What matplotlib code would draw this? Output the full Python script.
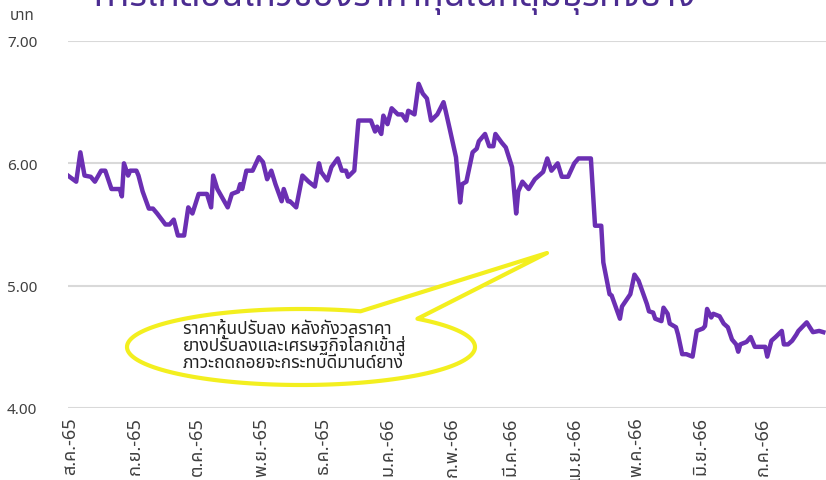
import numpy as np
import pandas as pd
import matplotlib
matplotlib.use("Agg")
import matplotlib.pyplot as plt
from matplotlib import font_manager
from matplotlib.ft2font import FT2Font
from matplotlib.path import Path
from matplotlib.patches import PathPatch

# ราคาหุ้น (บาท) อ่านค่าจากภาพ
dates = [
    "2022-07-31", "2022-08-04", "2022-08-06", "2022-08-08", "2022-08-11", "2022-08-13",
    "2022-08-16", "2022-08-18", "2022-08-21", "2022-08-25", "2022-08-26", "2022-08-27",
    "2022-08-29", "2022-08-30", "2022-09-02", "2022-09-03", "2022-09-05", "2022-09-08",
    "2022-09-10", "2022-09-12", "2022-09-16", "2022-09-18", "2022-09-20", "2022-09-22",
    "2022-09-25", "2022-09-27", "2022-09-29", "2022-10-02", "2022-10-06", "2022-10-08",
    "2022-10-09", "2022-10-11", "2022-10-16", "2022-10-18", "2022-10-21", "2022-10-22",
    "2022-10-23", "2022-10-25", "2022-10-28", "2022-10-31", "2022-11-02", "2022-11-04",
    "2022-11-06", "2022-11-08", "2022-11-11", "2022-11-12", "2022-11-14", "2022-11-15",
    "2022-11-18", "2022-11-21", "2022-11-24", "2022-11-27", "2022-11-29", "2022-11-30",
    "2022-12-03", "2022-12-05", "2022-12-08", "2022-12-10", "2022-12-12", "2022-12-13",
    "2022-12-16", "2022-12-18", "2022-12-24", "2022-12-26", "2022-12-27", "2022-12-29",
    "2022-12-30", "2023-01-01", "2023-01-03", "2023-01-06", "2023-01-08", "2023-01-10",
    "2023-01-11", "2023-01-14", "2023-01-16", "2023-01-18", "2023-01-20", "2023-01-22",
    "2023-01-25", "2023-01-28", "2023-01-29", "2023-01-31", "2023-02-03", "2023-02-05",
    "2023-02-06", "2023-02-08", "2023-02-11", "2023-02-13", "2023-02-14", "2023-02-17",
    "2023-02-19", "2023-02-21", "2023-02-22", "2023-02-25", "2023-02-27", "2023-03-02",
    "2023-03-04", "2023-03-05", "2023-03-07", "2023-03-10", "2023-03-13", "2023-03-15",
    "2023-03-17", "2023-03-19", "2023-03-21", "2023-03-24", "2023-03-26", "2023-03-29",
    "2023-04-01", "2023-04-03", "2023-04-09", "2023-04-11", "2023-04-14", "2023-04-15",
    "2023-04-18", "2023-04-19", "2023-04-23", "2023-04-24", "2023-04-28", "2023-04-30",
    "2023-05-02", "2023-05-06", "2023-05-07", "2023-05-09", "2023-05-10", "2023-05-13",
    "2023-05-14", "2023-05-16", "2023-05-17", "2023-05-20", "2023-05-21", "2023-05-23",
    "2023-05-25", "2023-05-28", "2023-05-30", "2023-06-02", "2023-06-03", "2023-06-04",
    "2023-06-06", "2023-06-07", "2023-06-10", "2023-06-12", "2023-06-14", "2023-06-16",
    "2023-06-18", "2023-06-19", "2023-06-20", "2023-06-23", "2023-06-25", "2023-06-27",
    "2023-07-02", "2023-07-03", "2023-07-05", "2023-07-07", "2023-07-10", "2023-07-11",
    "2023-07-13", "2023-07-15", "2023-07-17", "2023-07-18", "2023-07-22", "2023-07-25",
    "2023-07-28", "2023-07-30",
]
prices = [
    5.90, 5.85, 6.09, 5.90, 5.89, 5.85,
    5.94, 5.94, 5.79, 5.79, 5.73, 6.00,
    5.90, 5.94, 5.94, 5.90, 5.77, 5.63,
    5.63, 5.59, 5.50, 5.50, 5.54, 5.41,
    5.41, 5.64, 5.59, 5.75, 5.75, 5.64,
    5.90, 5.79, 5.64, 5.75, 5.77, 5.83,
    5.79, 5.94, 5.94, 6.05, 6.01, 5.87,
    5.94, 5.83, 5.69, 5.79, 5.69, 5.69,
    5.64, 5.90, 5.85, 5.81, 6.00, 5.93,
    5.86, 5.97, 6.04, 5.94, 5.94, 5.89,
    5.94, 6.35, 6.35, 6.26, 6.30, 6.24,
    6.39, 6.32, 6.45, 6.40, 6.40, 6.35,
    6.43, 6.40, 6.65, 6.57, 6.53, 6.35,
    6.40, 6.50, 6.43, 6.28, 6.05, 5.68,
    5.83, 5.85, 6.09, 6.12, 6.18, 6.24,
    6.14, 6.14, 6.24, 6.17, 6.13, 5.97,
    5.59, 5.77, 5.85, 5.79, 5.87, 5.90,
    5.93, 6.04, 5.94, 6.00, 5.89, 5.89,
    6.00, 6.04, 6.04, 5.49, 5.49, 5.19,
    4.93, 4.92, 4.73, 4.83, 4.93, 5.09,
    5.04, 4.85, 4.79, 4.78, 4.73, 4.71,
    4.82, 4.77, 4.69, 4.66, 4.60, 4.44,
    4.44, 4.42, 4.63, 4.65, 4.67, 4.81,
    4.74, 4.77, 4.75, 4.69, 4.66, 4.56,
    4.52, 4.46, 4.52, 4.54, 4.58, 4.50,
    4.50, 4.42, 4.55, 4.58, 4.63, 4.52,
    4.52, 4.55, 4.60, 4.63, 4.70, 4.62,
    4.63, 4.62,
]

month_starts = pd.date_range("2022-08-01", "2023-07-01", freq="MS")
month_labels = ["ส.ค.-65", "ก.ย.-65", "ต.ค.-65", "พ.ย.-65", "ธ.ค.-65", "ม.ค.-66",
                "ก.พ.-66", "มี.ค.-66", "เม.ย.-66", "พ.ค.-66", "มิ.ย.-66", "ก.ค.-66"]
y_ticks = [4.0, 5.0, 6.0, 7.0]

title = "การเคลื่อนไหวของราคาหุ้นในกลุ่มธุรกิจยาง"
note_lines = ["ราคาหุ้นปรับลง หลังกังวลราคา",
              "ยางปรับลงและเศรษฐกิจโลกเข้าสู่",
              "ภาวะถดถอยจะกระทบดีมานด์ยาง"]


def find_thai_font():
    prefer = ["Noto Sans Thai", "Noto Sans Thai Looped", "Loma", "Garuda",
              "Sarabun", "Kinnari", "Norasi", "Tlwg Typist"]
    found = []
    for f in font_manager.fontManager.ttflist:
        try:
            if 0x0E01 in FT2Font(f.fname).get_charmap():
                found.append(f.name)
        except Exception:
            continue
    for p in prefer:
        if p in found:
            return p
    return found[0] if found else "DejaVu Sans"


thai = find_thai_font()
plt.rcParams["font.family"] = [thai, "DejaVu Sans"]

W, H = 826, 481
fig = plt.figure(figsize=(W / 100, H / 100), dpi=100)
ax = fig.add_axes([68 / W, 1 - 409 / H, 1 - 68 / W, (409 - 42) / H])

x = pd.to_datetime(dates)
ax.plot(x, prices, color="#6B2FB3", lw=3.2, solid_joinstyle="round", zorder=3)

start = pd.Timestamp("2022-08-01")
ax.set_xlim(start - pd.Timedelta(days=0.96), start + pd.Timedelta(days=364.3))
ax.set_ylim(4.0, 7.0)

ax.set_yticks(y_ticks)
ax.set_yticklabels([f"{v:.2f}" for v in y_ticks])
ax.set_xticks(month_starts)
ax.set_xticklabels(month_labels, rotation=90, va="top", ha="center")
ax.tick_params(axis="y", length=0, pad=44, labelsize=11, labelcolor="#404040")
ax.tick_params(axis="x", length=0, pad=6, labelsize=13, labelcolor="#404040")
for lab in ax.get_yticklabels():
    lab.set_horizontalalignment("left")

ax.grid(axis="y", color="#d9d9d9", lw=1.5)
ax.grid(axis="x", visible=False)
for s in ax.spines.values():
    s.set_visible(False)
ax.set_clip_on(False)

fig.text(10 / W, 1 - 17 / H, "บาท", fontsize=11, color="#404040", va="center", ha="left")
# ชื่อกราฟถูกตัดขอบบนเหมือนภาพต้นฉบับ
fig.text(395 / W, 1 - 6 / H, title, fontsize=26, fontweight="bold", color="#4B2C91",
         ha="center", va="baseline")

# กล่องข้อความรูปวงรีพร้อมหาง (พิกัดพิกเซลของภาพ)
cx, cy, a, b = 301, 348, 174, 38
t = np.radians(np.linspace(70, 408, 160))
pts = [(cx + a * np.cos(v), cy - b * np.sin(v)) for v in t]
pts += [(547, 254), pts[0]]
verts = [(px / W, 1 - py / H) for px, py in pts]
codes = [Path.MOVETO] + [Path.LINETO] * (len(verts) - 2) + [Path.CLOSEPOLY]
bubble = PathPatch(Path(verts, codes), transform=fig.transFigure, facecolor="white",
                   edgecolor="#F3EF1F", lw=3.0, joinstyle="round", zorder=5)
fig.add_artist(bubble)
for i, line in enumerate(note_lines):
    fig.text(183 / W, 1 - (334 + 17 * i) / H, line, fontsize=12.5, color="#222222",
             ha="left", va="baseline", zorder=6)

fig.savefig("out.png", dpi=100)
